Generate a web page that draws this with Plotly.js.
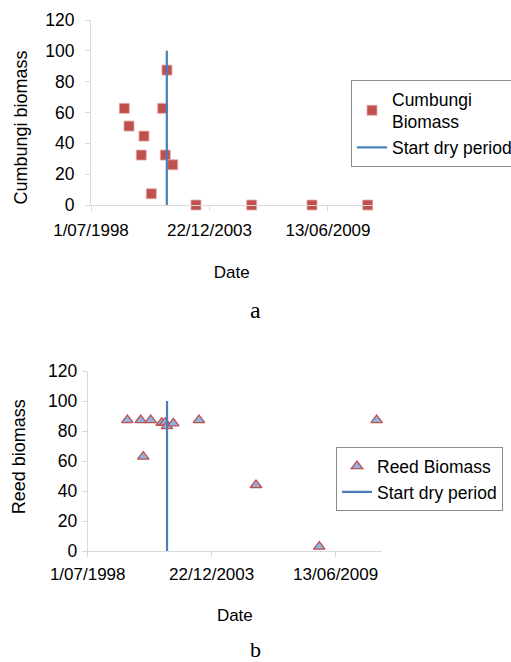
<!DOCTYPE html>
<html>
<head>
<meta charset="utf-8">
<script src="https://cdn.plot.ly/plotly-3.0.1.min.js"></script>
<style>html,body{margin:0;padding:0;background:#fff;}#chart{width:511px;height:662px;}</style>
</head>
<body>
<div id="chart"></div>
<script>
// Panel a: Cumbungi biomass
const cumbungiDates = ['2000-01-14','2000-04-02','2000-10-27','2000-12-11','2001-04-14','2001-10-23','2001-12-06','2002-01-03','2002-04-10','2003-05-08','2005-12-03','2008-09-16','2011-04-14'];
const cumbungiValues = [62.7, 51.2, 32.4, 44.7, 7.3, 62.7, 32.4, 87.5, 26.1, 0, 0, 0, 0];
// Panel b: Reed biomass
const reedDates = ['2000-04-01','2000-11-02','2000-12-14','2001-04-12','2001-10-07','2001-11-29','2001-12-31','2002-04-12','2003-05-31','2005-12-06','2008-09-22','2011-04-05'];
const reedValues = [87.3, 87.3, 62.9, 87.3, 85.5, 85.5, 83.3, 85.1, 87.3, 44, 2.9, 87.3];
// Start of dry period (vertical line)
const dryDates = ['2002-01-01','2002-01-01'];
const dryValues = [0, 100];
// Axis ticks
const xTickVals = ['1998-07-01','2003-12-22','2009-06-13'];
const xTickText = ['1/07/1998','22/12/2003','13/06/2009'];
const xRange = ['1998-07-01','2011-07-01'];
const yTickVals = [0, 20, 40, 60, 80, 100, 120];

const W = 511, H = 662;
const FONT = 'Liberation Sans, Arial, sans-serif';
const SERIF = 'Liberation Serif, Times New Roman, serif';
const axisCol = '#d9d9d9';

function xAxis(domain, anchor, standoff, titleStandoff) {
  return {
    type: 'date', domain: domain, range: xRange, anchor: anchor,
    tickmode: 'array', tickvals: xTickVals, ticktext: xTickText,
    showgrid: false, zeroline: false, showline: true, linecolor: axisCol, linewidth: 1,
    ticks: 'outside', ticklen: 5, tickcolor: axisCol, ticklabelstandoff: standoff,
    tickfont: {family: FONT, size: 17, color: '#000'},
    title: {text: 'Date', font: {family: FONT, size: 17, color: '#000'}, standoff: titleStandoff},
    automargin: false
  };
}
function yAxis(domain, anchor, standoff) {
  return {
    domain: domain, range: [0, 120], tickmode: 'array', tickvals: yTickVals, anchor: anchor,
    showgrid: false, zeroline: false, showline: true, linecolor: axisCol, linewidth: 1,
    ticks: 'outside', ticklen: 5, tickcolor: axisCol, ticklabelstandoff: standoff,
    tickfont: {family: FONT, size: 17.5, color: '#000'},
    automargin: false
  };
}

const traces = [
  {x: cumbungiDates, y: cumbungiValues, xaxis: 'x', yaxis: 'y', type: 'scatter', mode: 'markers',
   name: 'Cumbungi<br>Biomass', legend: 'legend', cliponaxis: false,
   marker: {symbol: 'square', size: 10, color: '#c0504d', line: {color: '#e6a9a7', width: 0.8}}},
  {x: dryDates, y: dryValues, xaxis: 'x', yaxis: 'y', type: 'scatter', mode: 'lines',
   name: 'Start dry period', legend: 'legend', line: {color: '#4a7ebb', width: 2.2}},
  {x: reedDates, y: reedValues, xaxis: 'x2', yaxis: 'y2', type: 'scatter', mode: 'markers',
   name: 'Reed Biomass', legend: 'legend2', cliponaxis: false,
   marker: {symbol: 'triangle-up', size: 10, color: '#8eb4e3', line: {color: '#c0504d', width: 1.3}}},
  {x: dryDates, y: dryValues, xaxis: 'x2', yaxis: 'y2', type: 'scatter', mode: 'lines',
   name: 'Start dry period', legend: 'legend2', line: {color: '#4a7ebb', width: 2.2}}
];

function legendCfg(left, top) {
  return {x: left / W, y: (H - top) / H, xanchor: 'left', yanchor: 'top',
    bordercolor: '#8c8c8c', borderwidth: 1, bgcolor: '#fff',
    font: {family: FONT, size: 17.5, color: '#000'}, itemwidth: 30};
}

const layout = {
  width: W, height: H,
  margin: {l: 0, r: 0, t: 0, b: 0, autoexpand: false},
  paper_bgcolor: '#fff', plot_bgcolor: 'rgba(0,0,0,0)',
  font: {family: FONT, size: 17, color: '#000'},
  xaxis: xAxis([91 / W, 372.3 / W], 'y', 5, 26),
  yaxis: yAxis([(H - 205) / H, (H - 20) / H], 'x', 7),
  xaxis2: xAxis([87.7 / W, 382 / W], 'y2', 3, 25),
  yaxis2: yAxis([(H - 551) / H, (H - 371) / H], 'x2', 1),
  legend: legendCfg(351, 80),
  legend2: legendCfg(336, 447.3),
  annotations: [
    {text: 'Cumbungi biomass', xref: 'paper', yref: 'paper', x: 20 / W, y: (H - 127.5) / H,
     textangle: -90, showarrow: false, xanchor: 'center', yanchor: 'middle',
     font: {family: FONT, size: 18, color: '#000'}},
    {text: 'Reed biomass', xref: 'paper', yref: 'paper', x: 18.5 / W, y: (H - 456.7) / H,
     textangle: -90, showarrow: false, xanchor: 'center', yanchor: 'middle',
     font: {family: FONT, size: 18, color: '#000'}},
    {text: 'a', xref: 'paper', yref: 'paper', x: 255.5 / W, y: (H - 310) / H, showarrow: false,
     xanchor: 'center', yanchor: 'middle', font: {family: SERIF, size: 24, color: '#000'}},
    {text: 'b', xref: 'paper', yref: 'paper', x: 255.5 / W, y: (H - 649) / H, showarrow: false,
     xanchor: 'center', yanchor: 'middle', font: {family: SERIF, size: 22, color: '#000'}}
  ],
  showlegend: true
};

Plotly.newPlot('chart', traces, layout, {displayModeBar: false, staticPlot: true});
</script>
</body>
</html>
